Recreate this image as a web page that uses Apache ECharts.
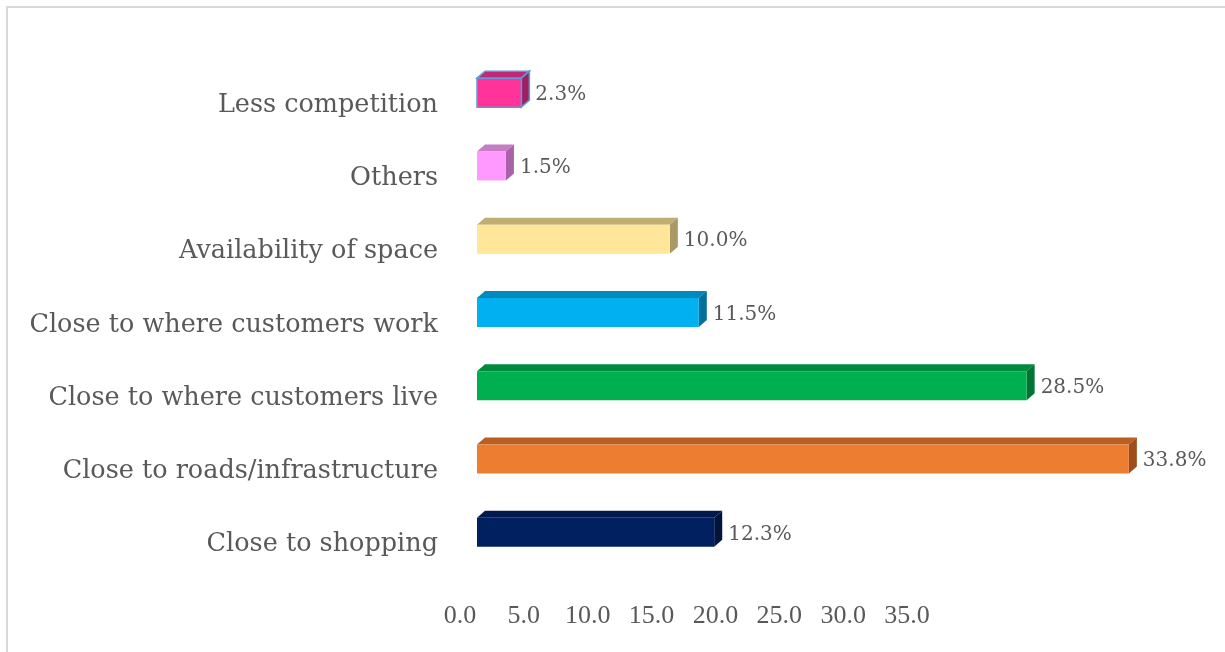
<!DOCTYPE html>
<html>
<head>
<meta charset="utf-8">
<script src="https://cdn.jsdelivr.net/npm/echarts@6/dist/echarts.min.js"></script>
<style>
  html, body { margin: 0; padding: 0; background: #ffffff; }
  #chart { width: 1225px; height: 652px; }
</style>
</head>
<body>
<div id="chart"></div>
<script>
// Reasons for choosing a business location (% of respondents)
const categories = [
  'Close to shopping',
  'Close to roads/infrastructure',
  'Close to where customers live',
  'Close to where customers work',
  'Availability of space',
  'Others',
  'Less competition'
];
const shares = [12.3, 33.8, 28.5, 11.5, 10.0, 1.5, 2.3];
const axisMin = 0;
const axisMax = 35;
const axisStep = 5;

// front / top / side shades for each box
const palette = [
  { front: '#002060', top: '#001a4f', side: '#00143d' },
  { front: '#ED7D31', top: '#b95f22', side: '#9c4f1c' },
  { front: '#00B050', top: '#008a3e', side: '#007334' },
  { front: '#00B0F0', top: '#0089bb', side: '#00709a' },
  { front: '#FFE699', top: '#c0ad72', side: '#a89a66' },
  { front: '#FF99FF', top: '#c67cc6', side: '#a862a8' },
  { front: '#FF3399', top: '#c2287a', side: '#a01f62', stroke: '#5B9BD5' }
];

const textColor = '#595959';
const DX = 8, DY = 7, H = 29;

function renderBox(params, api) {
  const v = api.value(0);
  const idx = api.value(1);
  const start = api.coord([0, idx]);
  const end = api.coord([v, idx]);
  const x0 = start[0], x1 = end[0], yc = end[1];
  const yt = yc - H / 2, yb = yc + H / 2;
  const c = palette[idx];
  const stroke = c.stroke ? { stroke: c.stroke, lineWidth: 1.5 } : { stroke: null };
  return {
    type: 'group',
    children: [
      {
        type: 'polygon',
        shape: { points: [[x0, yt], [x0 + DX, yt - DY], [x1 + DX, yt - DY], [x1, yt]] },
        style: Object.assign({ fill: c.top }, stroke)
      },
      {
        type: 'polygon',
        shape: { points: [[x1, yt], [x1 + DX, yt - DY], [x1 + DX, yb - DY], [x1, yb]] },
        style: Object.assign({ fill: c.side }, stroke)
      },
      {
        type: 'rect',
        shape: { x: x0, y: yt, width: x1 - x0, height: H },
        style: Object.assign({ fill: c.front }, stroke)
      },
      {
        type: 'text',
        x: x1 + DX + 6,
        y: yc + 2,
        style: {
          text: v.toFixed(1) + '%',
          fill: textColor,
          font: '20px "DejaVu Serif"',
          verticalAlign: 'middle',
          align: 'left'
        }
      }
    ]
  };
}

const chart = echarts.init(document.getElementById('chart'), null, { renderer: 'canvas' });

chart.setOption({
  backgroundColor: '#ffffff',
  animation: false,
  graphic: [
    {
      type: 'rect',
      shape: { x: 7, y: 7, width: 1240, height: 670 },
      style: { fill: 'none', stroke: '#d9d9d9', lineWidth: 2 },
      silent: true
    }
  ],
  grid: [
    { left: 477, width: 675, top: 56, height: 513 },
    { left: 460, width: 447, top: 560, height: 40 }
  ],
  xAxis: [
    {
      gridIndex: 0,
      type: 'value',
      min: axisMin,
      max: axisMax,
      interval: axisStep,
      show: false
    },
    {
      gridIndex: 1,
      type: 'value',
      min: axisMin,
      max: axisMax,
      interval: axisStep,
      position: 'bottom',
      axisLine: { show: false },
      axisTick: { show: false },
      splitLine: { show: false },
      axisLabel: {
        margin: 3,
        color: textColor,
        fontFamily: '"Liberation Serif"',
        fontSize: 26,
        formatter: function (v) { return v.toFixed(1); }
      }
    }
  ],
  yAxis: [
    {
      gridIndex: 0,
      type: 'category',
      data: categories,
      axisLine: { show: false },
      axisTick: { show: false },
      splitLine: { show: false },
      axisLabel: {
        margin: 39,
        color: textColor,
        fontFamily: '"DejaVu Serif"',
        fontSize: 25.5,
        verticalAlign: 'top',
        lineHeight: 25
      }
    },
    {
      gridIndex: 1,
      type: 'value',
      show: false
    }
  ],
  series: [
    {
      type: 'custom',
      xAxisIndex: 0,
      yAxisIndex: 0,
      renderItem: renderBox,
      encode: { x: 0, y: 1 },
      data: shares.map(function (v, i) { return [v, i]; })
    }
  ]
});
</script>
</body>
</html>
